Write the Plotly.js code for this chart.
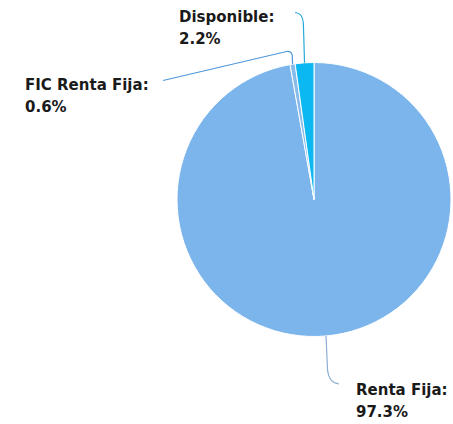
<!DOCTYPE html>
<html>
<head>
<meta charset="utf-8">
<script src="https://cdn.plot.ly/plotly-3.0.1.min.js"></script>
<style>html,body{margin:0;padding:0;background:#fff;}#chart{width:453px;height:424px;}</style>
</head>
<body>
<div id="chart"></div>
<script>
var categories = ["Renta Fija", "FIC Renta Fija", "Disponible"];
var values = [97.3, 0.6, 2.2];
var sliceColors = ["#7cb5ec", "#86bbea", "#0cb8f2"];
var lineColors = ["#8eaed4", "#4f97db", "#27a9d8"];

var W = 453, H = 424;
// pie box in pixels
var box = {l: 177, r: 451, t: 62, b: 337};
var cx = (box.l + box.r) / 2, cy = (box.t + box.b) / 2;
var R = Math.min(box.r - box.l, box.b - box.t) / 2;
function px(x) { return x / W; }
function py(y) { return 1 - y / H; }

var total = values.reduce(function (a, b) { return a + b; }, 0);
var cum = 0, rim = [];
values.forEach(function (v) {
  var mid = (cum + v / 2) / total * 2 * Math.PI; // clockwise from top
  rim.push({x: cx + R * Math.sin(mid), y: cy - R * Math.cos(mid)});
  cum += v;
});

// label placement (pixels): left x, baseline of first line, second line
var labelPos = [
  {x: 355, y1: 395, y2: 417},
  {x: 24, y1: 90, y2: 111.7},
  {x: 178, y1: 21.7, y2: 44.3}
];

function P(x, y) { return px(x).toFixed(5) + "," + py(y).toFixed(5); }

var s0 = rim[0], s1 = rim[1], s2 = rim[2];
var paths = [
  "M" + P(s0.x, s0.y) + " L" + P(s0.x + 1.5, 370) + " Q" + P(s0.x + 3, 383) + " " + P(labelPos[0].x - 16, 384),
  "M" + P(s1.x, s1.y) + " L" + P(s1.x - 0.3, 56) + " Q" + P(s1.x - 0.8, 51) + " " + P(s1.x - 6, 51.5) + " L" + P(163, 80.5),
  "M" + P(s2.x, s2.y) + " L" + P(s2.x - 1.2, 23) + " Q" + P(s2.x - 1.8, 13) + " " + P(s2.x - 9.5, 12.5)
];

var shapes = paths.map(function (p, i) {
  return {type: "path", xref: "paper", yref: "paper", path: p,
          line: {color: lineColors[i], width: 1.2}, layer: "above"};
});

var font = {family: "DejaVu Sans, Verdana, sans-serif", size: 15, color: "#1a1a1a"};
var annotations = [];
categories.forEach(function (c, i) {
  var lp = labelPos[i];
  annotations.push({xref: "paper", yref: "paper", x: px(lp.x), y: py(lp.y1 - 5),
    xanchor: "left", yanchor: "middle", text: "<b>" + c + ":</b>", showarrow: false, font: font, borderpad: 0});
  annotations.push({xref: "paper", yref: "paper", x: px(lp.x), y: py(lp.y2 - 5),
    xanchor: "left", yanchor: "middle", text: "<b>" + values[i].toFixed(1) + "%</b>", showarrow: false, font: font, borderpad: 0});
});

var trace = {
  type: "pie",
  labels: categories,
  values: values,
  sort: false,
  direction: "clockwise",
  rotation: 0,
  textinfo: "none",
  hoverinfo: "label+percent",
  marker: {colors: sliceColors, line: {color: "#ffffff", width: 1}},
  domain: {x: [px(box.l), px(box.r)], y: [py(box.b), py(box.t)]},
  showlegend: false
};

var layout = {
  width: W, height: H,
  margin: {l: 0, r: 0, t: 0, b: 0},
  paper_bgcolor: "#ffffff",
  showlegend: false,
  shapes: shapes,
  annotations: annotations
};

Plotly.newPlot("chart", [trace], layout, {displayModeBar: false, staticPlot: true});
</script>
</body>
</html>
